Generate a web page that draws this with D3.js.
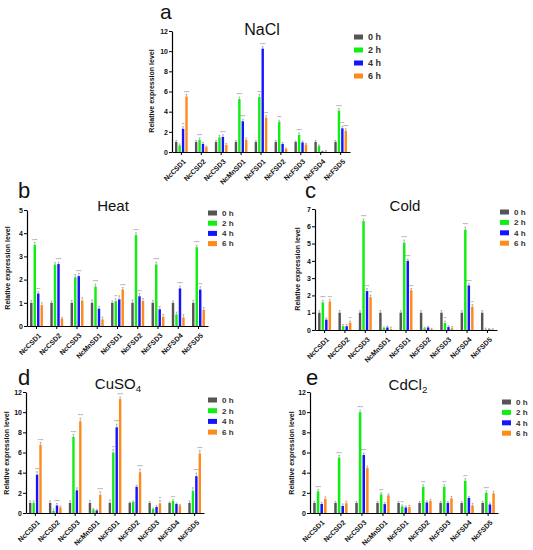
<!DOCTYPE html>
<html>
<head>
<meta charset="utf-8">
<script src="https://cdn.jsdelivr.net/npm/d3@7"></script>
<style>
  body { margin: 0; background: #fff; }
  svg { display: block; font-family: "Liberation Sans", Arial, sans-serif; }
</style>
</head>
<body>
<svg id="chart" width="533" height="550"></svg>
<script>
var genes = ["NcCSD1", "NcCSD2", "NcCSD3", "NcMnSD1", "NcFSD1", "NcFSD2", "NcFSD3", "NcFSD4", "NcFSD5"];
var times = ["0 h", "2 h", "4 h", "6 h"];
var colors = ["#555555", "#11ee11", "#1414ff", "#ff8a1c"];

// values per gene: [0 h, 2 h, 4 h, 6 h]
var naclValues = [[1, 0.65, 2.3, 5.5], [1, 1.2, 0.8, 0.5], [1, 1.45, 1.5, 0.7], [1, 5.25, 3.05, 1.2],
  [1, 5.45, 10.25, 3.4], [1, 3.0, 0.8, 0.3], [1, 1.7, 0.95, 0.75], [1, 0.6, 0.05, 0.05], [1, 4.1, 2.35, 2.1]];
var naclErrors = [[0.15, 0.15, 0.2, 0.2], [0.15, 0.2, 0.15, 0.1], [0.15, 0.2, 0.2, 0.15], [0.15, 0.2, 0.2, 0.2],
  [0.15, 0.25, 0.2, 0.2], [0.15, 0.15, 0.15, 0.1], [0.1, 0.2, 0.15, 0.1], [0.15, 0.1, 0.05, 0.1], [0.15, 0.2, 0.2, 0.2]];
var naclStars = [["", "", "**", "****"], ["", "****", "", ""], ["", "", "****", ""], ["", "****", "****", ""],
  ["", "***", "****", "***"], ["", "***", "", ""], ["", "****", "", ""], ["", "", "", ""], ["", "****", "***", "****"]];

var heatValues = [[1, 3.5, 1.4, 0.9], [1, 2.65, 2.67, 0.32], [1, 2.1, 2.15, 1.1], [1, 1.7, 0.75, 0.28],
  [1, 1.07, 1.15, 1.58], [1, 3.92, 1.28, 1.08], [1, 2.65, 0.72, 0.4], [1, 0.5, 1.62, 0.37], [1, 3.4, 1.57, 0.7]];
var heatErrors = [[0.1, 0.1, 0.08, 0.1], [0.08, 0.08, 0.08, 0.05], [0.1, 0.12, 0.12, 0.12], [0.12, 0.1, 0.1, 0.1],
  [0.08, 0.1, 0.15, 0.08], [0.12, 0.1, 0.12, 0.1], [0.1, 0.1, 0.12, 0.1], [0.08, 0.1, 0.1, 0.12], [0.1, 0.08, 0.12, 0.1]];
var heatStars = [["", "****", "***", ""], ["", "", "****", ""], ["", "", "****", ""], ["", "****", "", ""],
  ["", "**", "", "****"], ["", "****", "***", ""], ["", "****", "", ""], ["", "", "****", ""], ["", "****", "***", ""]];

var coldValues = [[1, 1.6, 0.6, 1.65], [1, 0.22, 0.22, 0.42], [1, 6.3, 2.25, 1.9], [1, 0.12, 0.15, 0.05],
  [1, 5.05, 4.0, 2.3], [1, 0.1, 0.15, 0.05], [1, 0.4, 0.17, 0.1], [1, 5.8, 2.58, 1.35], [1, 0.03, 0.03, 0.03]];
var coldErrors = [[0.12, 0.12, 0.1, 0.12], [0.12, 0.1, 0.1, 0.1], [0.12, 0.12, 0.15, 0.12], [0.12, 0.05, 0.08, 0.12],
  [0.12, 0.15, 0.1, 0.1], [0.12, 0.05, 0.05, 0.05], [0.12, 0.12, 0.08, 0.1], [0.12, 0.15, 0.12, 0.12], [0.12, 0.08, 0.05, 0.05]];
var coldStars = [["", "****", "", "***"], ["", "", "", "**"], ["", "****", "***", "**"], ["", "", "", ""],
  ["", "****", "****", "***"], ["", "", "", ""], ["", "**", "", ""], ["", "****", "****", "**"], ["", "", "", ""]];

var cuso4Values = [[1, 1.0, 3.8, 6.75], [1, 0.2, 0.75, 0.55], [1, 7.55, 2.25, 9.1], [1, 0.35, 0.25, 1.8],
  [1, 6.0, 8.5, 11.3], [1, 1.1, 2.6, 4.05], [1, 0.4, 0.6, 0.95], [1, 1.2, 0.9, 0.75], [1, 2.2, 3.65, 5.9]];
var cuso4Errors = [[0.2, 0.2, 0.3, 0.25], [0.2, 0.2, 0.2, 0.15], [0.2, 0.25, 0.25, 0.3], [0.25, 0.1, 0.1, 0.3],
  [0.3, 0.3, 0.3, 0.2], [0.1, 0.1, 0.15, 0.3], [0.15, 0.1, 0.15, 0.3], [0.1, 0.15, 0.1, 0.1], [0.2, 0.3, 0.3, 0.3]];
var cuso4Stars = [["", "", "***", "****"], ["", "", "****", ""], ["", "****", "", "****"], ["", "", "", "****"],
  ["", "**", "****", "****"], ["", "", "", "****"], ["", "", "", "**"], ["", "***", "", ""], ["", "", "****", "****"]];

var cdcl2Values = [[1, 2.15, 0.9, 1.4], [1, 5.5, 0.7, 0.97], [1, 10.0, 5.75, 4.45], [1, 1.85, 0.88, 1.75],
  [1, 0.65, 0.55, 0.6], [1, 2.6, 1.05, 1.2], [1, 2.6, 1.0, 1.45], [1, 3.2, 1.5, 0.75], [1, 2.0, 0.85, 1.95]];
var cdcl2Errors = [[0.15, 0.2, 0.15, 0.2], [0.15, 0.2, 0.2, 0.2], [0.15, 0.2, 0.2, 0.2], [0.15, 0.15, 0.15, 0.15],
  [0.15, 0.15, 0.15, 0.15], [0.15, 0.2, 0.15, 0.15], [0.15, 0.2, 0.15, 0.2], [0.15, 0.2, 0.15, 0.2], [0.15, 0.2, 0.15, 0.2]];
var cdcl2Stars = [["", "****", "", ""], ["", "****", "", ""], ["", "****", "****", ""], ["", "***", "", ""],
  ["", "**", "", ""], ["", "***", "", ""], ["", "***", "", ""], ["", "***", "", ""], ["", "****", "", ""]];

var ticks12 = [0, 2, 4, 6, 8, 10, 12];
var ticks5 = [0, 1, 2, 3, 4, 5];
var ticks7 = [0, 1, 2, 3, 4, 5, 6, 7];

var svg = d3.select("#chart");
svg.append("rect").attr("width", 533).attr("height", 550).attr("fill", "#fff");

var panels = [
  {letter: "a", title: ["NaCl"], values: naclValues, errors: naclErrors, stars: naclStars, ticks: ticks12,
   x0: 172, x1: 350, top: 31, bottom: 152, letterPos: [160, 19], letterSize: 21, titlePos: [262, 35], titleSize: 16,
   labelPos: [152, 91], legend: [354, 37, 13, 9]},
  {letter: "b", title: ["Heat"], values: heatValues, errors: heatErrors, stars: heatStars, ticks: ticks5,
   x0: 27, x1: 208, top: 210, bottom: 326, letterPos: [18, 198], letterSize: 22, titlePos: [113, 211], titleSize: 15,
   labelPos: [8, 268], legend: [208, 213, 10.2, 8]},
  {letter: "c", title: ["Cold"], values: coldValues, errors: coldErrors, stars: coldStars, ticks: ticks7,
   x0: 315, x1: 497, top: 209, bottom: 330, letterPos: [305, 198], letterSize: 22, titlePos: [405, 211], titleSize: 15,
   labelPos: [298, 269], legend: [500, 212, 10.4, 8]},
  {letter: "d", title: ["CuSO", "4"], values: cuso4Values, errors: cuso4Errors, stars: cuso4Stars, ticks: ticks12,
   x0: 26, x1: 204, top: 392, bottom: 513, letterPos: [18, 385], letterSize: 22, titlePos: [118, 389], titleSize: 15,
   labelPos: [7, 453], legend: [208, 400, 10.7, 8]},
  {letter: "e", title: ["CdCl", "2"], values: cdcl2Values, errors: cdcl2Errors, stars: cdcl2Stars, ticks: ticks12,
   x0: 310, x1: 498, top: 392, bottom: 513, letterPos: [306, 385], letterSize: 22, titlePos: [408, 390], titleSize: 15,
   labelPos: [292, 453], legend: [502, 402, 10.4, 8]}
];

panels.forEach(function(p) {
  var g = svg.append("g");

  var x = d3.scaleBand().domain(genes).range([p.x0, p.x1]).paddingInner(0.26).paddingOuter(0.1);
  var xs = d3.scaleBand().domain(times).range([0, x.bandwidth()]).padding(0.3);
  var y = d3.scaleLinear().domain([0, d3.max(p.ticks)]).range([p.bottom, p.top]);

  // bars
  var groups = g.selectAll(".grp")
    .data(genes)
    .enter().append("g")
      .attr("transform", function(d) { return "translate(" + x(d) + ",0)"; });

  groups.each(function(gene, gi) {
    var grp = d3.select(this);
    times.forEach(function(t, ti) {
      var v = p.values[gi][ti], e = p.errors[gi][ti], bx = xs(t), bw = xs.bandwidth();
      grp.append("rect")
        .attr("x", bx)
        .attr("y", y(v))
        .attr("width", bw)
        .attr("height", y(0) - y(v))
        .attr("fill", colors[ti]);
      // error bar
      var cx = bx + bw / 2;
      grp.append("line")
        .attr("x1", cx).attr("x2", cx)
        .attr("y1", y(v)).attr("y2", y(v + e))
        .attr("stroke", "#777").attr("stroke-width", 0.5);
      grp.append("line")
        .attr("x1", cx - 0.9).attr("x2", cx + 0.9)
        .attr("y1", y(v + e)).attr("y2", y(v + e))
        .attr("stroke", "#777").attr("stroke-width", 0.5);
      if (p.stars[gi][ti]) {
        grp.append("text")
          .attr("x", cx)
          .attr("y", y(v + e) - 0.8)
          .attr("text-anchor", "middle")
          .attr("font-size", 3.4)
          .attr("fill", "#555")
          .text(p.stars[gi][ti]);
      }
    });
  });

  // axes
  var xAxis = g.append("g")
    .attr("transform", "translate(0," + p.bottom + ")")
    .call(d3.axisBottom(x).tickSize(3).tickSizeOuter(0));
  xAxis.select(".domain").attr("stroke-width", 1.2);
  xAxis.selectAll("text")
    .attr("font-size", 7)
    .attr("font-weight", "bold")
    .attr("fill", "#111")
    .attr("text-anchor", "end")
    .attr("y", 0)
    .attr("dy", 0)
    .attr("transform", "translate(5,10) rotate(-45)");

  var yAxis = g.append("g")
    .attr("transform", "translate(" + p.x0 + ",0)")
    .call(d3.axisLeft(y).tickValues(p.ticks).tickFormat(d3.format("d")).tickSize(3).tickSizeOuter(0));
  yAxis.select(".domain").attr("stroke-width", 1.2);
  yAxis.selectAll("text")
    .attr("font-size", 7)
    .attr("font-weight", "bold")
    .attr("fill", "#111")
    .attr("x", -4);

  g.append("text")
    .attr("transform", "translate(" + p.labelPos[0] + "," + p.labelPos[1] + ") rotate(-90)")
    .attr("text-anchor", "middle")
    .attr("dy", "0.35em")
    .attr("font-size", 7)
    .attr("font-weight", "bold")
    .attr("fill", "#111")
    .text("Relative expression level");

  // title
  var title = g.append("text")
    .attr("x", p.titlePos[0])
    .attr("y", p.titlePos[1])
    .attr("text-anchor", "middle")
    .attr("font-size", p.titleSize)
    .attr("fill", "#111")
    .text(p.title[0]);
  if (p.title[1]) {
    title.append("tspan")
      .attr("font-size", p.titleSize * 0.65)
      .attr("dy", 3)
      .text(p.title[1]);
  }

  // panel letter
  g.append("text")
    .attr("x", p.letterPos[0])
    .attr("y", p.letterPos[1])
    .attr("font-size", p.letterSize)
    .attr("fill", "#111")
    .text(p.letter);

  // legend
  var lg = p.legend;
  times.forEach(function(t, i) {
    g.append("rect")
      .attr("x", lg[0])
      .attr("y", lg[1] + i * lg[2] - 2.5)
      .attr("width", 9)
      .attr("height", 5)
      .attr("fill", colors[i]);
    g.append("text")
      .attr("x", lg[0] + 14)
      .attr("y", lg[1] + i * lg[2])
      .attr("dy", "0.35em")
      .attr("font-size", lg[3])
      .attr("font-weight", "bold")
      .attr("fill", "#333")
      .text(t);
  });
});
</script>
</body>
</html>
